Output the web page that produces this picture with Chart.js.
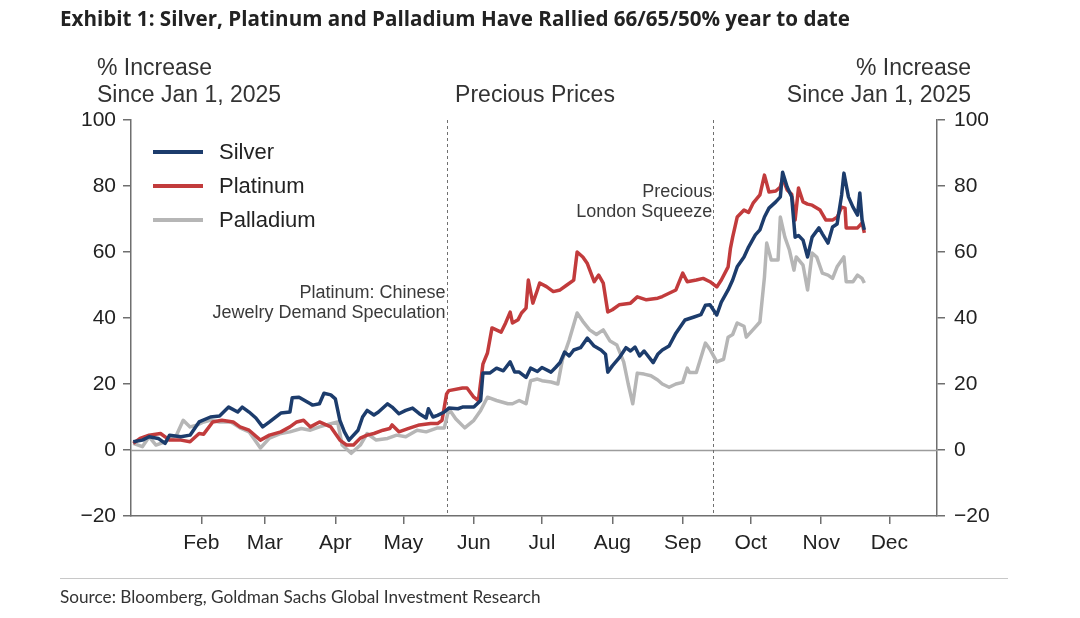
<!DOCTYPE html>
<html>
<head>
<meta charset="utf-8">
<script src="https://cdn.jsdelivr.net/npm/chart.js@4"></script>
<style>
  html,body{margin:0;padding:0;background:#fff;}
  #wrap{position:relative;width:1080px;height:618px;overflow:hidden;}
  canvas{position:absolute;left:0;top:0;}
  .t{position:absolute;white-space:nowrap;color:#333;}
  #title{left:60px;top:5px;font:bold 20.6px "Open Sans", Lato, sans-serif;line-height:26px;color:#222;}
  .ax{font:23px "Liberation Sans", Arial, sans-serif;line-height:27px;}
  #axl{left:97px;top:54px;}
  #axr{right:109px;top:54px;text-align:right;}
  #mid{left:435px;width:200px;top:81px;text-align:center;}
  #sep{position:absolute;left:60px;width:948px;top:578px;border-top:1.5px solid #c8c8c8;}
  #src{left:60px;top:586px;font:17.2px Lato, "Open Sans", sans-serif;line-height:22px;color:#333;}
</style>
</head>
<body>
<div id="wrap">
  <canvas id="c" width="1080" height="618"></canvas>
  <div class="t" id="title">Exhibit 1: Silver, Platinum and Palladium Have Rallied 66/65/50% year to date</div>
  <div class="t ax" id="axl">% Increase<br>Since Jan 1, 2025</div>
  <div class="t ax" id="axr">% Increase<br>Since Jan 1, 2025</div>
  <div class="t ax" id="mid">Precious Prices</div>
  <div id="sep"></div>
  <div class="t" id="src">Source: Bloomberg, Goldman Sachs Global Investment Research</div>
</div>
<script>
// ---- data (x = day of year 2025, y = % increase since Jan 1, 2025) ----
const monthNames = ["Feb","Mar","Apr","May","Jun","Jul","Aug","Sep","Oct","Nov","Dec"];
const monthDays  = [31,59,90,120,151,181,212,243,273,304,334];
const yTicks = [-20,0,20,40,60,80,100];

const silverDays = [1,5,8,12,15,17,22,26,30,35,39,43,47,49,52,55,58,61,66,70,71,74,79,80,83,85,88,90,92,94,96,100,102,104,107,109,113,115,118,121,124,127,130,131,133,135,138,140,144,146,151,154,155,158,161,164,167,169,171,174,176,179,181,185,187,189,191,193,195,198,201,204,207,209,210,212,215,218,220,222,224,226,230,232,234,237,240,244,248,251,253,255,258,260,263,265,267,270,272,275,277,279,281,284,286,287,289,291,292.5,294,296,298,300,303,304.5,307,309,311,313,314,316,318,320,321,322,323];
const silverPct  = [2.5,3,4,3.5,2,4.5,4,4.5,8.5,10,10.3,13,11.5,13,11.5,9.7,7,8.5,11.2,11.5,15.8,16,14,13.6,14,17.2,16.7,15.5,9,5.5,3,6,10,12,10.6,11.5,14,13,11,12,12.7,11,9.7,12.5,10,10.5,11.5,12.7,12.5,13,13,15,23.3,23.3,24.8,24,26.7,23.6,23.6,22,24.8,23.8,25,23.6,25,26.5,29.7,28.5,30.3,31,33.9,31.5,30.3,29,23.6,25.5,27.9,31,30,31.2,28.5,30,26.5,29,30.3,31.5,35.4,39.4,40.3,41,43.9,44,40.9,44.8,48.5,51.5,55.5,58.5,61.5,65.2,66.7,70.6,73.3,75.2,76.7,84.2,79.7,76.7,64.5,65,63.6,58.5,64.5,67.3,65.5,62.7,67.6,68.5,77.3,83.9,76.7,73.6,71.2,77.9,69.7,66.7];

const platinumDays = [1,4,8,13,17,22,26,30,32,36,40,45,48,52,57,61,66,70,73,76,79,83,88,92,95,98,101,104,107,111,114,115,118,122,127,132,135,137,139,140,146,148,151,153,155,157,159,163,165,167,168,170.5,172,174,175,177,179,180,183,186,189,192,195,196.5,199,201,204,206,208,210,212,215,220,223,227,232,234,237,240,243,245,249,252,255,258,260,263,264,265,267,270,272,274,277,279,281,284,286,287,289,291,292.5,294,296,298,300,303.5,306,309,311,313,314.5,315,318,320,322,323];
const platinumPct  = [2,3.5,4.5,5,3,3,2.5,5,4.8,8.5,9,8.5,7,6,3,4.5,5.5,7,8.5,9,7,8.5,7,3,1.5,1.5,3.6,4.5,5,6,6.5,7.6,5.5,6.5,7.6,8,8,9,17,18,18.8,18.8,16,15,26,29.4,37,35.7,38.5,41.8,38.5,39.5,41.5,43,51.5,44.5,48.5,50.6,49.5,48,48.5,50,51.5,60,58.5,56.5,51,53,50.6,41.8,42.5,44,44.5,46.4,45.5,46,46.5,47.5,48.5,53.6,51,51.5,52,51,49.4,51.5,55.5,61,64.5,70.6,72.7,72,74.8,77.3,83.3,78.2,78.5,79.7,82.4,78.8,77.5,69.7,79.4,75.2,74.5,74.2,72.7,69.7,69.7,70.5,73.6,73.3,67.3,67.3,67.3,68.8,65.8];

const palladiumDays = [1,5,8,11,15,20,23,26,29,32,35,39,44,48,52,57,61,66,70,75,79,83,88,91,93,97,101,104,108,113,117,121,126,130,135,138,140,143,147,151,154,157,161,166,168,171,174,176,179,181,185,188,190,193,196.5,199,202,205,208,211,214,217,219,221,223,226,229,232,234,237,240,243,245,246,249,253,255,258,261,263,265,267,270,271,274,277,279,280,282,285,286,288,290,292,293,296,298,300,302,304.5,307,309,311,314,315,318,320,322,323];
const palladiumPct  = [2,1,4,1.5,2.5,4.5,9,7,7.5,8.5,9,8.5,8.5,6.7,5.5,0.6,3.6,5,5.5,6.5,6,7,8,8.5,1.5,-1,1.5,5,3,3.5,4.5,4,6,5.5,6.7,6.7,12.5,9.5,6.7,9,12,16,15,14,14,15,14,21,21.5,21,20.6,20,27.3,33.3,41.5,39,36.4,35,36.4,33,31.8,26.7,20,14,23.3,23,22.5,21.2,20,19,20,20.5,24.8,23.5,23.5,32.4,30.5,26.7,27.5,34.2,35,38.5,37.5,34.2,36.5,38.8,52.4,62.7,57.6,57.6,70.6,64.5,60.6,54.5,58.5,56,48.5,59.7,58.5,53.6,53,52,55.5,58.5,51,51,53,52,50.6];

const seriesNames  = ["Silver","Platinum","Palladium"];
const eventDays    = [139, 256.5];
const eventLabels  = [["Platinum: Chinese","Jewelry Demand Speculation"],["Precious","London Squeeze"]];

// ---- styling ----
const colors = ["#1c3c6c","#c23b3c","#b6b6b6"];
const AXIS = "#6f6f6f";
const FONT = '"Liberation Sans", Arial, sans-serif';

function pairs(xs, ys){ return xs.map((d,i)=>({x:d, y:ys[i]})); }

const decor = {
  id:'decor',
  beforeDatasetsDraw(chart){
    const {ctx, chartArea:a, scales} = chart;
    const x = scales.x, y = scales.y;
    ctx.save();
    const y0 = Math.round(y.getPixelForValue(0)) + 0.5;
    ctx.strokeStyle = '#9c9c9c'; ctx.lineWidth = 1.5;
    ctx.beginPath(); ctx.moveTo(a.left, y0); ctx.lineTo(a.right, y0); ctx.stroke();
    ctx.setLineDash([3,3]); ctx.strokeStyle = '#707070'; ctx.lineWidth = 1;
    eventDays.forEach(d=>{
      const px = Math.round(x.getPixelForValue(d)) + 0.5;
      ctx.beginPath(); ctx.moveTo(px, a.top); ctx.lineTo(px, a.bottom); ctx.stroke();
    });
    ctx.setLineDash([]);
    ctx.fillStyle = '#3a3a3a'; ctx.font = '18px ' + FONT;
    ctx.textAlign = 'right'; ctx.textBaseline = 'middle';
    const tops = [173, 72];
    eventLabels.forEach((lines,i)=>{
      const px = x.getPixelForValue(eventDays[i]) - 1;
      lines.forEach((s,j)=> ctx.fillText(s, px, a.top + tops[i] + j*20));
    });
    ctx.restore();
  },
  afterDatasetsDraw(chart){
    const {ctx, chartArea:a} = chart;
    ctx.save();
    ctx.font = '22px ' + FONT; ctx.textBaseline = 'middle'; ctx.textAlign = 'left';
    seriesNames.forEach((n,i)=>{
      const yy = a.top + 32 + i*34;
      ctx.strokeStyle = colors[i]; ctx.lineWidth = 4; ctx.lineCap = 'butt';
      ctx.beginPath(); ctx.moveTo(a.left + 22, yy); ctx.lineTo(a.left + 72, yy); ctx.stroke();
      ctx.fillStyle = '#222';
      ctx.fillText(n, a.left + 88, yy + 1);
    });
    ctx.restore();
  }
};

const yAxisCommon = {
  type:'linear', min:-20, max:100,
  afterBuildTicks: s => { s.ticks = yTicks.map(v=>({value:v})); },
  ticks:{ color:'#222', font:{family:FONT, size:21}, callback: v => v < 0 ? '\u2212' + Math.abs(v) : String(v) },
  grid:{ drawOnChartArea:false, drawTicks:true, tickLength:8, color:AXIS, lineWidth:1.5 },
  border:{ display:true, color:AXIS, width:1.5 }
};

new Chart(document.getElementById('c'), {
  type:'line',
  data:{
    datasets:[
      {label:seriesNames[0], data:pairs(silverDays, silverPct), borderColor:colors[0]},
      {label:seriesNames[1], data:pairs(platinumDays, platinumPct), borderColor:colors[1]},
      {label:seriesNames[2], data:pairs(palladiumDays, palladiumPct), borderColor:colors[2]}
    ].map(d=>Object.assign(d,{borderWidth:3.5, pointRadius:0, tension:0, fill:false, borderJoinStyle:'round'}))
  },
  options:{
    responsive:false, animation:false, devicePixelRatio:1,
    layout:{ padding:{ left:0, right:0, top:120, bottom:0 } },
    plugins:{ legend:{display:false}, title:{display:false}, tooltip:{enabled:false} },
    scales:{
      x:{
        type:'linear', min:0, max:355,
        afterBuildTicks: s => { s.ticks = monthDays.map(v=>({value:v})); },
        afterFit: s => { s.height = 102; },
        ticks:{ color:'#222', font:{family:FONT, size:21}, padding:7, autoSkip:false, maxRotation:0,
                callback: v => monthNames[monthDays.indexOf(v)] },
        grid:{ drawOnChartArea:false, drawTicks:true, tickLength:8, color:AXIS, lineWidth:1.5 },
        border:{ display:true, color:AXIS, width:1.5 }
      },
      y: Object.assign({}, yAxisCommon, { position:'left', afterFit: s => { s.width = 131; },
            ticks:Object.assign({}, yAxisCommon.ticks, {padding:7}) }),
      y2: Object.assign({}, yAxisCommon, { position:'right', afterFit: s => { s.width = 143; },
            ticks:Object.assign({}, yAxisCommon.ticks, {padding:9}) })
    }
  },
  plugins:[decor]
});
</script>
</body>
</html>
